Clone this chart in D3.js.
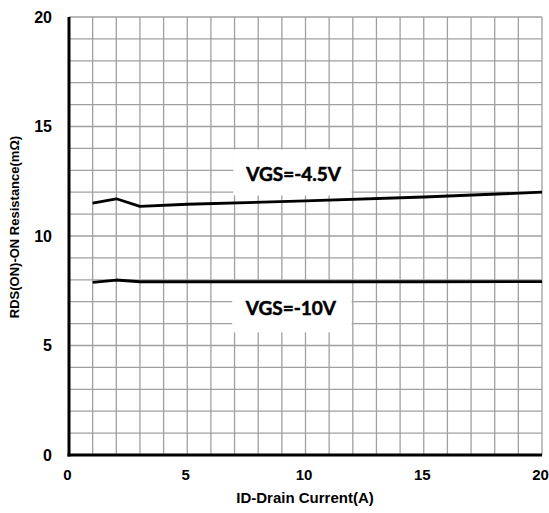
<!DOCTYPE html>
<html>
<head>
<meta charset="utf-8">
<script src="https://cdn.jsdelivr.net/npm/d3@7"></script>
<style>
  html, body { margin: 0; padding: 0; background: #fff; }
  svg { display: block; }
</style>
</head>
<body>
<svg id="chart" width="549" height="513"></svg>
<script>
// Drain current (A) sample points
const current = [1, 2, 3, 5, 10, 15, 20];
// On-resistance (mΩ) per gate voltage
const rdsVgs45 = [11.5, 11.7, 11.35, 11.45, 11.6, 11.78, 12.0];
const rdsVgs10 = [7.88, 7.99, 7.91, 7.91, 7.91, 7.91, 7.92];
const seriesNames = ["VGS=-4.5V", "VGS=-10V"];
const xTicks = [0, 5, 10, 15, 20];
const yTicks = [0, 5, 10, 15, 20];

const svg = d3.select("#chart");
const plotLeft = 69, plotRight = 542, plotTop = 17, plotBottom = 455;

const x = d3.scaleLinear().domain([0, 20]).range([plotLeft, plotRight]);
const y = d3.scaleLinear().domain([0, 20]).range([plotBottom, plotTop]);

// fine grid, one line per unit
const grid = svg.append("g").attr("stroke", "#a0a0a0").attr("stroke-width", 1.3);
d3.range(1, 21).forEach(v => {
  grid.append("line").attr("x1", x(v)).attr("x2", x(v)).attr("y1", y(0)).attr("y2", y(20));
  grid.append("line").attr("x1", x(0)).attr("x2", x(20)).attr("y1", y(v)).attr("y2", y(v));
});

// white label panels that mask the grid
const panels = [
  { x0: 6.95, x1: 11.95, y0: 11.85, y1: 13.95 },
  { x0: 6.9, x1: 11.95, y0: 5.6, y1: 7.85 }
];
svg.append("g").selectAll("rect").data(panels).join("rect")
  .attr("x", d => x(d.x0)).attr("width", d => x(d.x1) - x(d.x0))
  .attr("y", d => y(d.y1)).attr("height", d => y(d.y0) - y(d.y1))
  .attr("fill", "#fff");

// curves
const line = d3.line().x((d, i) => x(current[i])).y(d => y(d));
[rdsVgs45, rdsVgs10].forEach(s => {
  svg.append("path").datum(s).attr("d", line)
    .attr("fill", "none").attr("stroke", "#000").attr("stroke-width", 2.8)
    .attr("stroke-linejoin", "round");
});

// curve labels
const labelPos = [{ x: 9.5, y: 12.5 }, { x: 9.38, y: 6.38 }];
svg.append("g").selectAll("text").data(seriesNames).join("text")
  .attr("x", (d, i) => x(labelPos[i].x)).attr("y", (d, i) => y(labelPos[i].y))
  .attr("text-anchor", "middle")
  .attr("font-family", "Lato, 'Open Sans', sans-serif")
  .attr("font-weight", "bold").attr("font-size", 19)
  .attr("stroke", "#000").attr("stroke-width", 0.5)
  .text(d => d);

// axes lines
svg.append("line").attr("x1", x(0)).attr("x2", x(0)).attr("y1", y(0) + 1.5).attr("y2", y(20))
  .attr("stroke", "#000").attr("stroke-width", 3);
svg.append("line").attr("x1", x(0) - 1.5).attr("x2", x(20)).attr("y1", y(0)).attr("y2", y(0))
  .attr("stroke", "#000").attr("stroke-width", 3);

const font = "'Liberation Sans', Arial, sans-serif";

// tick labels via axes (no tick marks)
const xAxis = svg.append("g").attr("transform", `translate(0,${plotBottom})`)
  .call(d3.axisBottom(x).tickValues(xTicks).tickSize(0).tickPadding(14).tickFormat(d3.format("d")));
const yAxis = svg.append("g").attr("transform", `translate(${plotLeft},0)`)
  .call(d3.axisLeft(y).tickValues(yTicks).tickSize(0).tickPadding(17).tickFormat(d3.format("d")));
[xAxis, yAxis].forEach(a => {
  a.select(".domain").remove();
  a.selectAll("text").attr("font-family", font).attr("font-weight", "bold").attr("fill", "#000");
});
xAxis.selectAll("text").attr("font-size", 15).attr("dx", -2);
yAxis.selectAll("text").attr("font-size", 16);

// axis titles
svg.append("text").attr("x", 305).attr("y", 503).attr("text-anchor", "middle")
  .attr("font-family", font).attr("font-weight", "bold").attr("font-size", 15)
  .text("ID-Drain Current(A)");
svg.append("text").attr("transform", "translate(19,227) rotate(-90)").attr("text-anchor", "middle")
  .attr("font-family", font).attr("font-weight", "bold").attr("font-size", 13)
  .text("RDS(ON)-ON Resistance(mΩ)");
</script>
</body>
</html>
